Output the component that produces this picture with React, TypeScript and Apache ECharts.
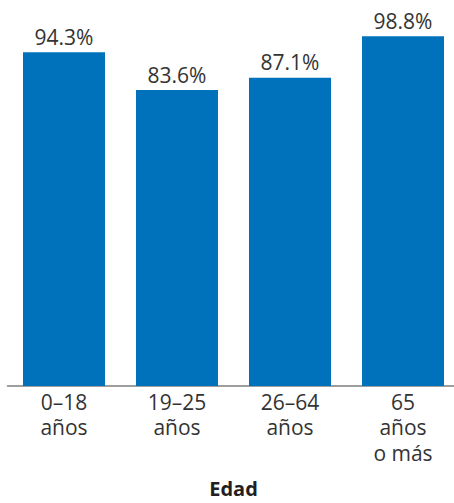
import React, { useEffect, useRef } from "react";
import * as echarts from "echarts";

const categories = ["0–18\naños", "19–25\naños", "26–64\naños", "65\naños\no más"];
const values = [94.3, 83.6, 87.1, 98.8];
const axisTitle = "Edad";

export default function App() {
  const ref = useRef<HTMLDivElement>(null);
  useEffect(() => {
    if (!ref.current) return;
    const chart = echarts.init(ref.current, null, { renderer: "svg" });
    chart.setOption({
      animation: false,
      textStyle: { fontFamily: "Open Sans" },
      grid: { left: 7.5, top: 32, right: 0.5, bottom: 109, containLabel: false },
      xAxis: {
        type: "category",
        data: categories,
        name: axisTitle,
        nameLocation: "middle",
        nameGap: 92,
        nameTextStyle: { fontSize: 20, fontWeight: "bold", color: "#231f20", fontFamily: "Open Sans" },
        axisLine: { lineStyle: { color: "#7f7f7f", width: 1.5 } },
        axisTick: { show: false },
        axisLabel: {
          fontSize: 21,
          lineHeight: 25.5,
          color: "#333333",
          margin: 3,
          interval: 0,
          verticalAlign: "top",
        },
      },
      yAxis: {
        type: "value",
        min: 0,
        max: 100,
        show: false,
      },
      series: [
        {
          type: "bar",
          data: values,
          barWidth: 82,
          itemStyle: { color: "#0072bc" },
          label: {
            show: true,
            position: "top",
            distance: 5,
            fontSize: 21,
            color: "#333333",
            formatter: (p: any) => p.value.toFixed(1) + "%",
          },
        },
      ],
    });
    return () => chart.dispose();
  }, []);
  return (
    <div style={{ position: "fixed", left: 0, top: 0, width: 454, height: 503, overflow: "hidden", background: "#fff" }}>
      <div ref={ref} style={{ width: 460, height: 503 }} />
    </div>
  );
}
